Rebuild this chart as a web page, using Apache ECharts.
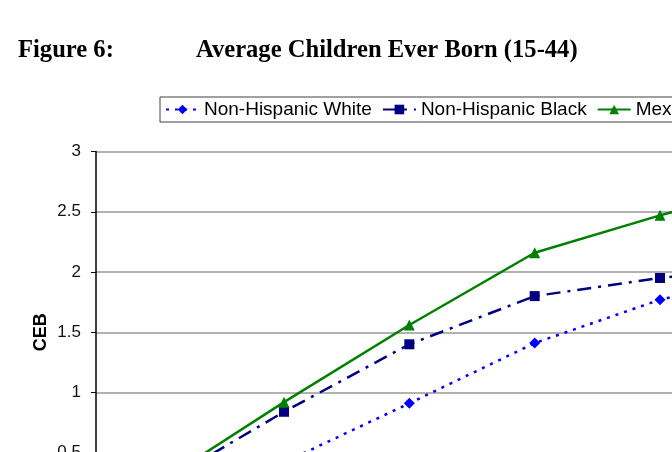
<!DOCTYPE html>
<html>
<head>
<meta charset="utf-8">
<script src="https://cdn.jsdelivr.net/npm/echarts@6/dist/echarts.min.js"></script>
<style>
  html, body { margin: 0; padding: 0; background: #fff; }
  #chart { width: 672px; height: 452px; }
</style>
</head>
<body>
<div id="chart"></div>
<script>
// age groups (x axis)
var ageGroups = ['15-19', '20-24', '25-29', '30-34', '35-39', '40-44'];
var seriesNames = ['Non-Hispanic White', 'Non-Hispanic Black', 'Mexican American'];

// average children ever born
var whiteCEB = [0.08, 0.42, 0.91, 1.41, 1.77, 2.00];
var blackCEB = [0.23, 0.84, 1.40, 1.80, 1.95, 2.06];
var mexicanCEB = [0.25, 0.92, 1.56, 2.16, 2.47, 2.75];

var yTicks = [0, 0.5, 1, 1.5, 2, 2.5, 3];

var myChart = echarts.init(document.getElementById('chart'));

var option = {
    animation: false,
    backgroundColor: '#ffffff',
    title: [
        {
            text: 'Figure 6:',
            left: 13, top: 33,
            textStyle: { fontFamily: 'Liberation Serif', fontWeight: 'bold', fontSize: 24.6, color: '#000' }
        },
        {
            text: 'Average Children Ever Born (15-44)',
            left: 191, top: 33,
            textStyle: { fontFamily: 'Liberation Serif', fontWeight: 'bold', fontSize: 24.6, color: '#000' }
        }
    ],
    legend: {
        data: seriesNames,
        left: 160,
        top: 97,
        width: 900,
        padding: [3, 5, 3, 5],
        itemGap: 10,
        itemWidth: 33,
        itemHeight: 12,
        borderColor: '#404040',
        borderWidth: 1,
        textStyle: { fontFamily: 'Liberation Sans', fontSize: 19, color: '#000' }
    },
    grid: {
        left: 96,
        top: 151.5,
        width: 752,
        height: 361.5,
        outerBoundsMode: 'none',
        containLabel: false
    },
    xAxis: {
        type: 'category',
        data: ageGroups,
        boundaryGap: true,
        axisLine: { lineStyle: { color: '#000' } },
        axisTick: { show: false },
        axisLabel: { color: '#000', fontFamily: 'Liberation Sans', fontSize: 16 }
    },
    yAxis: {
        type: 'value',
        min: yTicks[0],
        max: yTicks[yTicks.length - 1],
        interval: 0.5,
        name: 'CEB',
        nameLocation: 'middle',
        nameRotate: 90,
        nameGap: 46,
        nameMoveOverlap: false,
        nameTextStyle: { fontFamily: 'Liberation Sans', fontWeight: 'bold', fontSize: 18, color: '#000' },
        axisLine: { show: true, lineStyle: { color: '#000', width: 1.5 } },
        axisTick: { show: true, length: 5, lineStyle: { color: '#000' } },
        axisLabel: { color: '#111', fontFamily: 'Liberation Sans', fontSize: 17, margin: 15 },
        splitLine: { show: true, lineStyle: { color: '#999', width: 1.5 } }
    },
    series: [
        {
            name: seriesNames[0],
            type: 'line',
            data: whiteCEB,
            symbol: 'diamond',
            symbolSize: 11,
            itemStyle: { color: '#0000ff' },
            lineStyle: { color: '#0000ff', width: 2.5, type: [3, 6] }
        },
        {
            name: seriesNames[1],
            type: 'line',
            data: blackCEB,
            symbol: 'rect',
            symbolSize: 10,
            itemStyle: { color: '#000080' },
            lineStyle: { color: '#000080', width: 2.5, type: [14, 7, 3, 7] }
        },
        {
            name: seriesNames[2],
            type: 'line',
            data: mexicanCEB,
            symbol: 'triangle',
            symbolSize: 11,
            itemStyle: { color: '#008000' },
            lineStyle: { color: '#008000', width: 2.5, type: 'solid' }
        }
    ]
};

myChart.setOption(option);
window.addEventListener('resize', function () { myChart.resize(); });
</script>
</body>
</html>
